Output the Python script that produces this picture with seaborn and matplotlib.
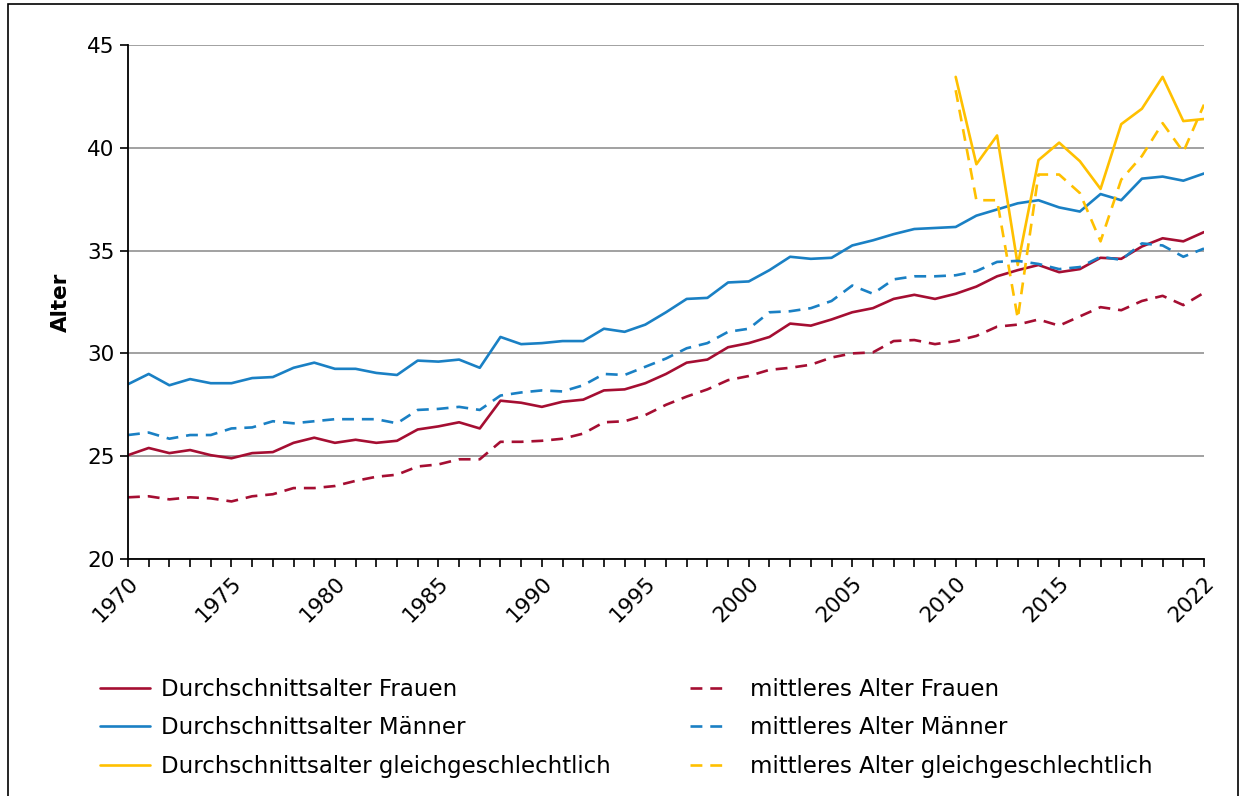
import numpy as np
import pandas as pd
import seaborn as sns
import matplotlib.pyplot as plt
from matplotlib.patches import Rectangle

years = list(range(1970, 2023))
years_gl = list(range(2010, 2023))

avg_frauen = [25.05, 25.4, 25.15, 25.3, 25.05, 24.9, 25.15, 25.2, 25.65, 25.9,
              25.65, 25.8, 25.65, 25.75, 26.3, 26.45, 26.65, 26.35, 27.7, 27.6,
              27.4, 27.65, 27.75, 28.2, 28.25, 28.55, 29.0, 29.55, 29.7, 30.3,
              30.5, 30.8, 31.45, 31.35, 31.65, 32.0, 32.2, 32.65, 32.85, 32.65,
              32.9, 33.25, 33.75, 34.05, 34.3, 33.95, 34.1, 34.65, 34.6, 35.2,
              35.6, 35.45, 35.9]
avg_maenner = [28.5, 29.0, 28.45, 28.75, 28.55, 28.55, 28.8, 28.85, 29.3, 29.55,
               29.25, 29.25, 29.05, 28.95, 29.65, 29.6, 29.7, 29.3, 30.8, 30.45,
               30.5, 30.6, 30.6, 31.2, 31.05, 31.4, 32.0, 32.65, 32.7, 33.45,
               33.5, 34.05, 34.7, 34.6, 34.65, 35.25, 35.5, 35.8, 36.05, 36.1,
               36.15, 36.7, 37.0, 37.3, 37.45, 37.1, 36.9, 37.75, 37.45, 38.5,
               38.6, 38.4, 38.75]
avg_gleich = [43.45, 39.2, 40.6, 34.3, 39.4, 40.25, 39.35, 38.0, 41.15, 41.9,
              43.45, 41.3, 41.4]

med_frauen = [23.0, 23.05, 22.9, 23.0, 22.95, 22.8, 23.05, 23.15, 23.45, 23.45,
              23.55, 23.8, 24.0, 24.1, 24.5, 24.6, 24.85, 24.85, 25.7, 25.7,
              25.75, 25.85, 26.1, 26.65, 26.7, 27.0, 27.5, 27.9, 28.25, 28.7,
              28.9, 29.2, 29.3, 29.45, 29.8, 30.0, 30.05, 30.6, 30.65, 30.45,
              30.6, 30.85, 31.3, 31.4, 31.65, 31.35, 31.8, 32.25, 32.1, 32.55,
              32.8, 32.35, 32.95]
med_maenner = [26.03, 26.15, 25.85, 26.03, 26.03, 26.35, 26.4, 26.7, 26.6, 26.7,
               26.8, 26.8, 26.8, 26.6, 27.25, 27.3, 27.4, 27.25, 27.95, 28.1,
               28.2, 28.15, 28.45, 29.0, 28.95, 29.35, 29.75, 30.25, 30.5, 31.05,
               31.2, 32.0, 32.05, 32.2, 32.55, 33.3, 32.9, 33.6, 33.75, 33.75,
               33.8, 34.0, 34.45, 34.5, 34.35, 34.1, 34.2, 34.7, 34.55, 35.35,
               35.25, 34.7, 35.1]
med_gleich = [42.8, 37.45, 37.45, 31.7, 38.7, 38.7, 37.8, 35.45, 38.45, 39.6,
              41.2, 39.8, 42.1]

label_years = [1970, 1975, 1980, 1985, 1990, 1995, 2000, 2005, 2010, 2015, 2022]

RED = "#a50e32"
BLUE = "#1a80c4"
YELLOW = "#ffc000"

sns.set_style("white")
plt.rcParams["font.family"] = ["DejaVu Sans"]
plt.rcParams["text.color"] = "black"
plt.rcParams["axes.labelcolor"] = "black"

fig = plt.figure(figsize=(12.44, 7.96), dpi=100)
ax = fig.add_axes([128 / 1244, 1 - 559 / 796, (1204 - 128) / 1244, (559 - 45) / 796])

lw = 1.9
dash = (4.5, 3.0)
sns.lineplot(x=years, y=avg_frauen, color=RED, lw=lw, ax=ax, label="Durchschnittsalter Frauen")
sns.lineplot(x=years, y=avg_maenner, color=BLUE, lw=lw, ax=ax, label="Durchschnittsalter Männer")
sns.lineplot(x=years_gl, y=avg_gleich, color=YELLOW, lw=lw, ax=ax,
             label="Durchschnittsalter gleichgeschlechtlich")
sns.lineplot(x=years, y=med_frauen, color=RED, lw=lw, dashes=dash, ax=ax, label="mittleres Alter Frauen")
sns.lineplot(x=years, y=med_maenner, color=BLUE, lw=lw, dashes=dash, ax=ax, label="mittleres Alter Männer")
sns.lineplot(x=years_gl, y=med_gleich, color=YELLOW, lw=lw, dashes=dash, ax=ax,
             label="mittleres Alter gleichgeschlechtlich")

ax.set_xlim(1970, 2022)
ax.set_ylim(20, 45)
ax.set_yticks([20, 25, 30, 35, 40, 45])
ax.yaxis.grid(True, color="#9a9a9a", lw=1.3)
ax.set_axisbelow(True)
ax.set_xticks(years)
ax.set_xticklabels([str(y) if y in label_years else "" for y in years],
                   rotation=45, ha="right", rotation_mode="anchor")
ax.tick_params(axis="both", direction="out", length=6, width=1.2, color="black",
               labelsize=15.5, labelcolor="black", left=True, bottom=True)
ax.tick_params(axis="x", pad=4)
for s in ["top", "right"]:
    ax.spines[s].set_visible(False)
for s in ["left", "bottom"]:
    ax.spines[s].set_color("black")
    ax.spines[s].set_linewidth(1.3)
ax.set_xlabel("")
ax.set_ylabel("Alter", fontsize=15.5, fontweight="bold", labelpad=12, color="black")

# Legende in zwei Spalten unter dem Diagramm
handles, labels = ax.get_legend_handles_labels()
ax.get_legend().remove()
fs = 16.5
fig.legend(handles[:3], labels[:3], loc="upper left", bbox_to_anchor=(100 / 1244, 1 - 678 / 796),
           frameon=False, fontsize=fs, handlelength=2.2, handletextpad=0.45,
           labelspacing=0.67, borderpad=0, borderaxespad=0, labelcolor="black")
fig.legend(handles[3:], labels[3:], loc="upper left", bbox_to_anchor=(690 / 1244, 1 - 678 / 796),
           frameon=False, fontsize=fs, handlelength=1.5, handletextpad=1.1,
           labelspacing=0.67, borderpad=0, borderaxespad=0, labelcolor="black")

fig.patches.append(Rectangle((8 / 1244, 0 - 0.01), (1238 - 8) / 1244, 1 - 4 / 796 + 0.01,
                             transform=fig.transFigure, fill=False, edgecolor="black",
                             lw=1.2, clip_on=False))

fig.savefig("out.png", dpi=100)
